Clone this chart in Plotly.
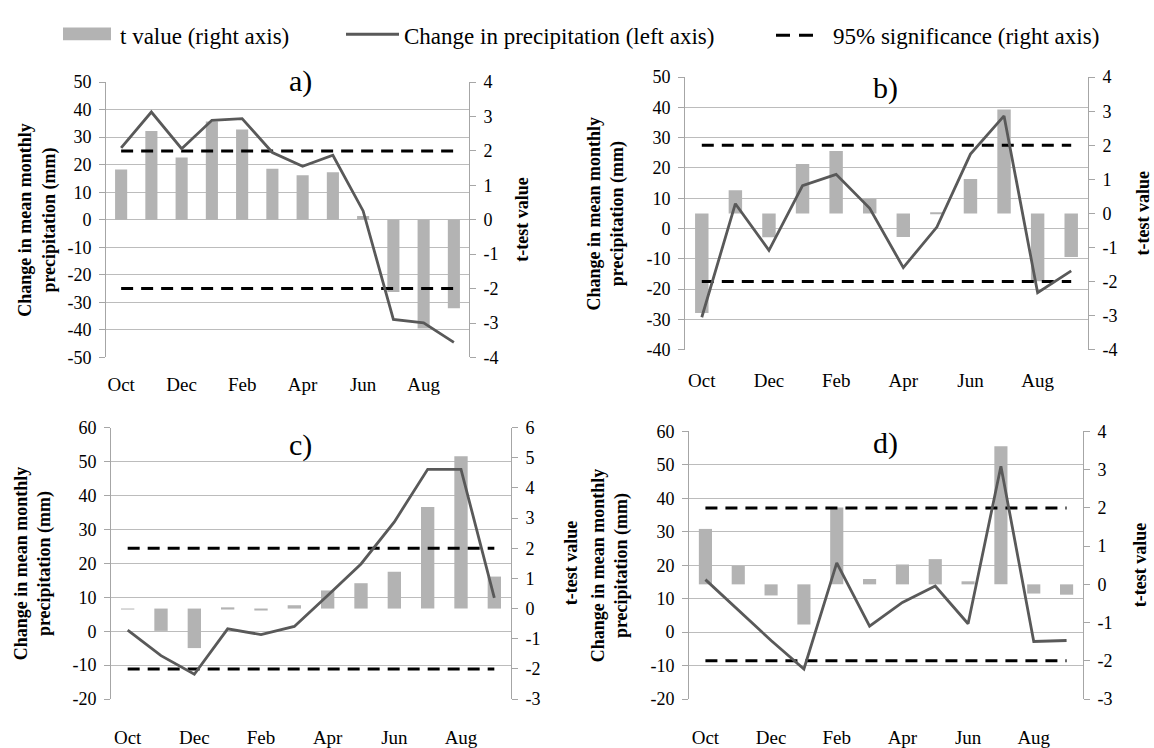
import plotly.graph_objects as go

# ---------------- data ----------------
months = ["Oct", "Nov", "Dec", "Jan", "Feb", "Mar", "Apr", "May", "Jun", "Jul", "Aug", "Sep"]
tick_months = ["Oct", "Dec", "Feb", "Apr", "Jun", "Aug"]

precip_a = [26.1, 39.1, 25.8, 36.1, 36.7, 24.4, 19.4, 23.4, 3.2, -36.2, -37.4, -44.5]
t_a = [1.46, 2.58, 1.81, 2.85, 2.62, 1.48, 1.29, 1.38, 0.11, -2.10, -3.16, -2.57]

precip_b = [-29.3, 8.2, -7.2, 14.2, 17.9, 6.7, -12.9, 0.5, 24.6, 37.2, -21.2, -14.0]
t_b = [-2.92, 0.68, -0.70, 1.45, 1.83, 0.43, -0.69, 0.03, 1.01, 3.05, -1.99, -1.28]

precip_c = [0.3, -7.2, -12.7, 0.7, -1.0, 1.4, 10.5, 19.8, 32.2, 47.7, 47.7, 9.8]
t_c = [-0.02, -0.74, -1.31, 0.04, -0.06, 0.11, 0.60, 0.84, 1.22, 3.37, 5.05, 1.06]

precip_d = [15.7, 6.5, -2.5, -11.0, 20.7, 1.8, 8.9, 13.8, 2.5, 49.6, -2.8, -2.5]
t_d = [1.45, 0.48, -0.29, -1.05, 2.01, 0.14, 0.52, 0.66, 0.08, 3.61, -0.24, -0.27]

sig_upper = [2] * 12
sig_lower = [-2] * 12

panel_labels = ["a)", "b)", "c)", "d)"]
left_title = "Change in mean monthly<br>precipitation (mm)"
right_title = "t-test value"
legend_labels = ["t value (right axis)", "Change in precipitation (left axis)",
                 "95% significance (right axis)"]

# ---------------- styling / layout ----------------
W, H = 1154, 748
FONT = "Liberation Serif, Times New Roman, serif"
BAR_C = "#b3b3b3"
LINE_C = "#595959"
GRID_C = "#bcbcbc"
AXIS_C = "#a6a6a6"


def px(x):
    return x / W


def py(y):
    return 1 - y / H


panels = [
    dict(p=precip_a, t=t_a, x=(106, 469), y=(74, 357), lr=(-50, 50), rr=(-4, 4),
         lab=(300, 73), ltx=37, rtx=522, so=14),
    dict(p=precip_b, t=t_b, x=(685, 1088), y=(69, 349), lr=(-40, 50), rr=(-4, 4),
         lab=(885, 80), ltx=606, rtx=1143, so=17),
    dict(p=precip_c, t=t_c, x=(111, 511), y=(429, 708), lr=(-20, 60), rr=(-3, 6),
         lab=(300, 447), ltx=33, rtx=571, so=25),
    dict(p=precip_d, t=t_d, x=(689, 1083), y=(433, 708), lr=(-20, 60), rr=(-3, 4),
         lab=(885, 445), ltx=610, rtx=1140, so=25),
]

fig = go.Figure()
layout = {}
annotations = []
tickfont = dict(family=FONT, size=18, color="black")

for i, P in enumerate(panels):
    k = i + 1
    xa = "x" if k == 1 else f"x{k}"
    ya_t = "y" if k == 1 else f"y{2 * k - 1}"
    ya_p = f"y{2 * k}"
    xkey = "xaxis" if k == 1 else f"xaxis{k}"
    ytkey = "yaxis" if k == 1 else f"yaxis{2 * k - 1}"
    ypkey = f"yaxis{2 * k}"

    # bars: t value (right axis)
    fig.add_trace(go.Bar(x=months, y=P["t"], xaxis=xa, yaxis=ya_t, width=0.4,
                         marker=dict(color=BAR_C, line=dict(width=0)),
                         name=legend_labels[0], showlegend=False))
    # 95% significance (right axis)
    for sig in (sig_upper, sig_lower):
        fig.add_trace(go.Scatter(x=months, y=sig, xaxis=xa, yaxis=ya_t, mode="lines",
                                 line=dict(color="black", width=3, dash="12px,8px"),
                                 name=legend_labels[2], showlegend=False))
    # change in precipitation (left axis)
    fig.add_trace(go.Scatter(x=months, y=P["p"], xaxis=xa, yaxis=ya_p, mode="lines",
                             line=dict(color=LINE_C, width=2.8),
                             name=legend_labels[1], showlegend=False))

    rt_vals = list(range(P["rr"][0], P["rr"][1] + 1))
    lt_vals = list(range(P["lr"][0], P["lr"][1] + 1, 10))

    layout[xkey] = dict(domain=[px(P["x"][0]), px(P["x"][1])], anchor=ya_t,
                        type="category", categoryorder="array", categoryarray=months,
                        range=[-0.5, 11.5], showgrid=False, showline=False, zeroline=False,
                        ticks="", tickvals=tick_months, ticktext=tick_months,
                        tickfont=dict(family=FONT, size=19, color="black"),
                        ticklabelstandoff=P["so"], fixedrange=True)
    layout[ytkey] = dict(domain=[py(P["y"][1]), py(P["y"][0])], anchor=xa, side="right",
                         range=list(P["rr"]), tickvals=rt_vals,
                         ticktext=[str(v) for v in rt_vals], showgrid=False,
                         zeroline=False, showline=True, linecolor=AXIS_C, linewidth=1,
                         ticks="outside", ticklen=6, tickcolor=AXIS_C, tickwidth=1,
                         tickfont=tickfont, ticklabelstandoff=4, fixedrange=True)
    layout[ypkey] = dict(overlaying=ya_t, anchor=xa, side="left",
                         range=list(P["lr"]), tickvals=lt_vals,
                         ticktext=[str(v) for v in lt_vals], showgrid=True,
                         gridcolor=GRID_C, gridwidth=1, zeroline=False, showline=True,
                         linecolor=AXIS_C, linewidth=1, ticks="outside", ticklen=6,
                         tickcolor=AXIS_C, tickwidth=1, tickfont=tickfont,
                         ticklabelstandoff=4, fixedrange=True)

    yc = (P["y"][0] + P["y"][1]) / 2
    annotations.append(dict(text=panel_labels[i], x=px(P["lab"][0]), y=py(P["lab"][1]),
                            xref="paper", yref="paper", showarrow=False,
                            xanchor="center", yanchor="middle",
                            font=dict(family=FONT, size=30, color="black")))
    annotations.append(dict(text="<b>" + left_title + "</b>", x=px(P["ltx"]), y=py(yc),
                            xref="paper", yref="paper", showarrow=False, textangle=-90,
                            xanchor="center", yanchor="middle",
                            font=dict(family=FONT, size=18, color="black")))
    annotations.append(dict(text="<b>" + right_title + "</b>", x=px(P["rtx"]), y=py(yc),
                            xref="paper", yref="paper", showarrow=False, textangle=-90,
                            xanchor="center", yanchor="middle",
                            font=dict(family=FONT, size=18, color="black")))

# ---------------- legend (drawn at top) ----------------
shapes = [
    dict(type="rect", xref="paper", yref="paper", x0=px(63), x1=px(111), y0=py(31), y1=py(18),
         fillcolor=BAR_C, line=dict(width=0)),
    dict(type="line", xref="paper", yref="paper", x0=px(346), x1=px(399), y0=py(25), y1=py(25),
         line=dict(color=LINE_C, width=3)),
    dict(type="line", xref="paper", yref="paper", x0=px(776), x1=px(818), y0=py(26), y1=py(26),
         line=dict(color="black", width=3, dash="14px,9px")),
]
for xs, txt in zip((118, 402, 831), legend_labels):
    annotations.append(dict(text=txt, x=px(xs), y=py(27), xref="paper", yref="paper",
                            showarrow=False, xanchor="left", yanchor="middle",
                            font=dict(family=FONT, size=23, color="black")))

fig.update_layout(
    width=W, height=H,
    margin=dict(l=0, r=0, t=0, b=0),
    paper_bgcolor="white", plot_bgcolor="rgba(0,0,0,0)",
    showlegend=False, bargap=0.6,
    annotations=annotations, shapes=shapes,
    **layout,
)

fig.write_html("out.html")
